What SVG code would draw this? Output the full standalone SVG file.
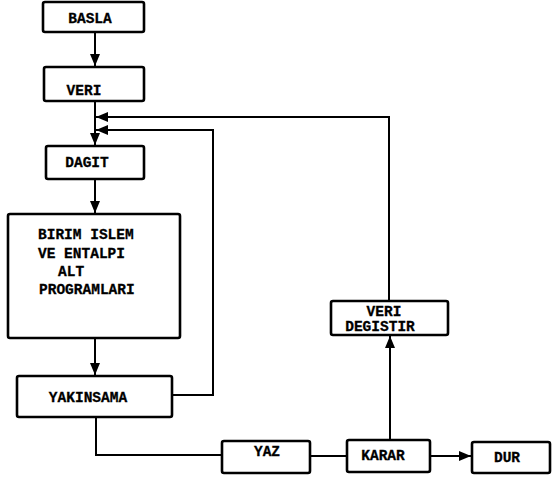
<svg xmlns="http://www.w3.org/2000/svg" width="553" height="480" viewBox="0 0 553 480">
<style>
.box{fill:#fff;stroke:#000;stroke-width:2.6}
.lbl{font-family:"Liberation Mono","DejaVu Sans Mono",monospace;font-weight:bold;font-size:14.5px;fill:#000;stroke:#000;stroke-width:0.3}
.c{fill:none;stroke:#000;stroke-width:2}
</style>
<defs>
<marker id="ah" markerUnits="userSpaceOnUse" markerWidth="14" markerHeight="10" refX="12" refY="5" orient="auto">
<path d="M0,0 L12,5 L0,10 Z" fill="#000"/>
</marker>
</defs>
<rect width="553" height="480" fill="#fff"/>
<g id="connectors">
<path class="c" d="M95 32 L95 66" marker-end="url(#ah)"/>
<path class="c" d="M95 101 L95 145" marker-end="url(#ah)"/>
<path class="c" d="M389 301 L389 117 L96 117" marker-end="url(#ah)"/>
<path class="c" d="M172 395 L213 395 L213 130 L96 130" marker-end="url(#ah)"/>
<path class="c" d="M95 179 L95 213" marker-end="url(#ah)"/>
<path class="c" d="M95 338 L95 375" marker-end="url(#ah)"/>
<path class="c" d="M96 417 L96 455 L222 455"/>
<path class="c" d="M310 456 L347 456"/>
<path class="c" d="M430 456 L471 456" marker-end="url(#ah)"/>
<path class="c" d="M390 440 L390 336" marker-end="url(#ah)"/>
</g>
<g id="basla"><rect class="box" x="43" y="2" width="101" height="30" rx="2"/><text class="lbl" x="90" y="23" text-anchor="middle">BASLA</text></g>
<g id="veri"><rect class="box" x="44" y="67" width="100" height="34" rx="2"/><text class="lbl" x="84" y="95" text-anchor="middle">VERI</text></g>
<g id="dagit"><rect class="box" x="46" y="146" width="98" height="33" rx="2"/><text class="lbl" x="87" y="167" text-anchor="middle">DAGIT</text></g>
<g id="birim"><rect class="box" x="8" y="214" width="172" height="124" rx="2"/>
<text class="lbl" x="38" y="239">BIRIM ISLEM</text>
<text class="lbl" x="38" y="258">VE ENTALPI</text>
<text class="lbl" x="58" y="276">ALT</text>
<text class="lbl" x="39" y="294">PROGRAMLARI</text></g>
<g id="yakinsama"><rect class="box" x="17" y="376" width="155" height="41" rx="2"/><text class="lbl" x="88" y="402" text-anchor="middle">YAKINSAMA</text></g>
<g id="yaz"><rect class="box" x="222" y="441" width="88" height="32" rx="2"/><text class="lbl" x="267" y="456" text-anchor="middle">YAZ</text></g>
<g id="karar"><rect class="box" x="347" y="440" width="83" height="32" rx="2"/><text class="lbl" x="383" y="460" text-anchor="middle">KARAR</text></g>
<g id="dur"><rect class="box" x="472" y="442" width="78" height="31" rx="2"/><text class="lbl" x="507" y="462" text-anchor="middle">DUR</text></g>
<g id="veridegistir"><rect class="box" x="331" y="301" width="117" height="34" rx="2"/>
<text class="lbl" x="384" y="316" text-anchor="middle">VERI</text>
<text class="lbl" x="380" y="331" text-anchor="middle">DEGISTIR</text></g>
</svg>
